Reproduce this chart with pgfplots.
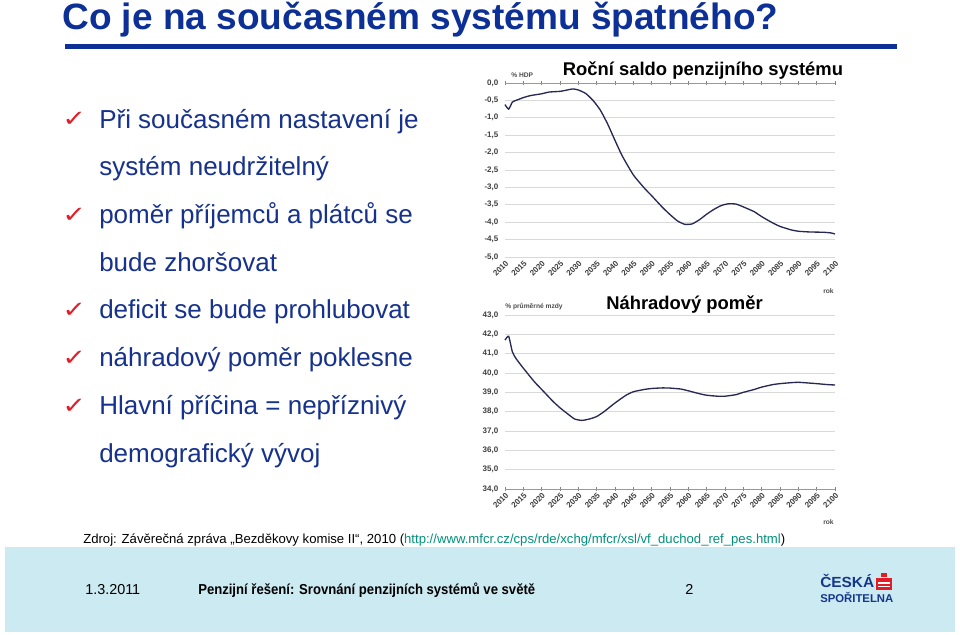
\documentclass[border=0pt]{standalone}
\usepackage{fontspec}
\setmainfont{Liberation Sans}
\newfontfamily\dejavu{DejaVu Sans}
\usepackage{pgfplots}
\pgfplotsset{compat=1.18}
\definecolor{titleblue}{RGB}{12,48,150}
\definecolor{textblue}{RGB}{22,50,140}
\definecolor{footbg}{RGB}{204,234,242}
\definecolor{linkgreen}{RGB}{0,145,125}
\definecolor{curve}{RGB}{40,40,85}
\definecolor{csred}{RGB}{225,30,40}
\definecolor{csblue}{RGB}{20,55,140}
\pgfplotsset{
  slide/.style={
    anchor=south west, scale only axis, width=247.5pt, height=130.5pt,
    xmin=2010, xmax=2100, clip=false,
    xtick={2010,2015,...,2100},
    axis line style={draw=none},
    ymajorgrids, grid style={gray!30, line width=0.6pt},
    major tick length=3pt, tick align=center,
    ytick style={draw=none},
    xtick style={gray, line width=0.5pt},
    /pgf/number format/assume math mode=true,
    tick label style={font=\fontsize{6}{7}\selectfont\bfseries, text=black!75},
    xticklabel style={rotate=45, anchor=north east, inner sep=0.5pt, /pgf/number format/1000 sep={}},
    yticklabel style={/pgf/number format/.cd, fixed, fixed zerofill, precision=1, use comma},
  }
}
\begin{document}
\begin{tikzpicture}[x=0.75pt,y=-0.75pt]
\path[use as bounding box, fill=white] (0,0) rectangle (960,635);
% title
\node[anchor=base west, inner sep=0, font=\fontsize{27.5}{30}\selectfont\bfseries, text=titleblue] at (62,30) {\scalebox{1.01}[1]{Co je na současném systému špatného?}};
\fill[titleblue] (65,44) rectangle (897,49);
% bullets
\foreach \y/\t/\c in {128/Při současném nastavení je/1, 175.5/systém neudržitelný/0, 223/poměr příjemců a plátců se/1, 271/bude zhoršovat/0, 318/deficit se bude prohlubovat/1, 366/náhradový poměr poklesne/1, 414/Hlavní příčina = nepříznivý/1, 462/demografický vývoj/0}{
  \node[anchor=base west, inner sep=0, font=\fontsize{19.5}{22}\selectfont, text=textblue] at (99,\y) {\t};
  \ifnum\c=1
    \node[anchor=base west, inner sep=0, font=\dejavu\fontsize{17}{18}\selectfont, text=csred] at (62,\y-1) {\scalebox{1.25}[1]{✓}};
  \fi
}
% chart titles
\node[anchor=base, inner sep=0, font=\fontsize{13.8}{15}\selectfont\bfseries] at (703,75) {Roční saldo penzijního systému};
\node[anchor=base, inner sep=0, font=\fontsize{13.8}{15}\selectfont\bfseries] at (684.5,309) {Náhradový poměr};
\node[anchor=base west, inner sep=0, font=\fontsize{5}{6}\selectfont\bfseries, text=black!70] at (511,78) {\% HDP};
\node[anchor=base west, inner sep=0, font=\fontsize{5}{6}\selectfont\bfseries, text=black!70] at (505,308) {\% průměrné mzdy};
\node[anchor=base west, inner sep=0, font=\fontsize{5}{6}\selectfont\bfseries, text=black!70] at (823,293) {rok};
\node[anchor=base west, inner sep=0, font=\fontsize{5}{6}\selectfont\bfseries, text=black!70] at (823,524) {rok};
% top chart
\begin{axis}[slide, at={(378.75pt,-192.75pt)},
  ymin=-5, ymax=0,
  ytick={-5,-4.5,-4,-3.5,-3,-2.5,-2,-1.5,-1,-0.5,0},
  xtick pos=right, xticklabel pos=left]
\draw[gray!80, line width=0.6pt] (axis cs:2010,0) -- (axis cs:2100,0);
\addplot[curve, line width=1pt, smooth, tension=0.35] coordinates {
(2010,-0.62) (2011,-0.75) (2012,-0.55) (2013,-0.50) (2015,-0.42) (2017,-0.36)
(2020,-0.31) (2022,-0.26) (2025,-0.24) (2027,-0.20) (2028.5,-0.17) (2030,-0.20)
(2032,-0.30) (2034,-0.50) (2036,-0.78) (2038,-1.18) (2040,-1.65) (2042,-2.10)
(2045,-2.64) (2048,-3.02) (2050,-3.24) (2053,-3.58) (2055,-3.78) (2057,-3.96)
(2059,-4.06) (2061,-4.05) (2063,-3.93) (2065,-3.77) (2067,-3.63) (2069,-3.52)
(2071,-3.47) (2073,-3.48) (2075,-3.56) (2078,-3.70) (2080,-3.84) (2083,-4.02)
(2085,-4.12) (2088,-4.22) (2090,-4.26) (2093,-4.28) (2097,-4.29) (2099,-4.31) (2100,-4.34)
};
\end{axis}
% bottom chart
\begin{axis}[slide, at={(378.75pt,-366.75pt)},
  ymin=34, ymax=43,
  ytick={34,35,...,43},
  xtick pos=left, xticklabel pos=left]
\draw[gray!80, line width=0.6pt] (axis cs:2010,34) -- (axis cs:2100,34);
\addplot[curve, line width=1pt, smooth, tension=0.35] coordinates {
(2010,41.7) (2011,41.9) (2012,41.1) (2013,40.75) (2015,40.25) (2018,39.55)
(2020,39.15) (2023,38.55) (2025,38.2) (2027,37.9) (2029,37.62) (2031,37.55)
(2033,37.62) (2035,37.75) (2037,38.0) (2040,38.45) (2043,38.85) (2045,39.03)
(2048,39.15) (2050,39.2) (2053,39.23) (2055,39.22) (2058,39.17) (2060,39.08)
(2063,38.93) (2065,38.85) (2068,38.8) (2070,38.8) (2073,38.88) (2075,39.0)
(2078,39.15) (2080,39.27) (2083,39.4) (2085,39.45) (2088,39.5) (2090,39.52)
(2093,39.48) (2095,39.45) (2098,39.4) (2100,39.38)
};
\end{axis}
% source
\node[anchor=base west, inner sep=0, font=\fontsize{9.85}{11}\selectfont] at (83,543) {Zdroj: Závěrečná zpráva „Bezděkovy komise II“, 2010 (\textcolor{linkgreen}{\underline{http://www.mfcr.cz/cps/rde/xchg/mfcr/xsl/vf\_duchod\_ref\_pes.html}})};
% footer
\fill[footbg] (5,547) rectangle (955,632);
\node[anchor=base west, inner sep=0, font=\fontsize{10.8}{12}\selectfont] at (85,594) {1.3.2011};
\node[anchor=base west, inner sep=0, font=\fontsize{10.8}{12}\selectfont\bfseries] at (198,594) {\scalebox{0.91}[1]{Penzijní řešení: Srovnání penzijních systémů ve světě}};
\node[anchor=base west, inner sep=0, font=\fontsize{10.8}{12}\selectfont] at (685,594) {2};
% logo
\node[anchor=base west, inner sep=0, font=\fontsize{11}{12}\selectfont\bfseries, text=csblue] at (820,587) {\scalebox{1.05}[1]{ČESKÁ}};
\node[anchor=base west, inner sep=0, font=\fontsize{8.5}{10}\selectfont\bfseries, text=csblue] at (820,602) {SPOŘITELNA};
\fill[csred] (876,578) rectangle (892,590);
\fill[white] (878,582) rectangle (890,583.5);
\fill[white] (878,585.5) rectangle (890,587);
\fill[csred] (881,573) rectangle (887,577);
\end{tikzpicture}
\end{document}
